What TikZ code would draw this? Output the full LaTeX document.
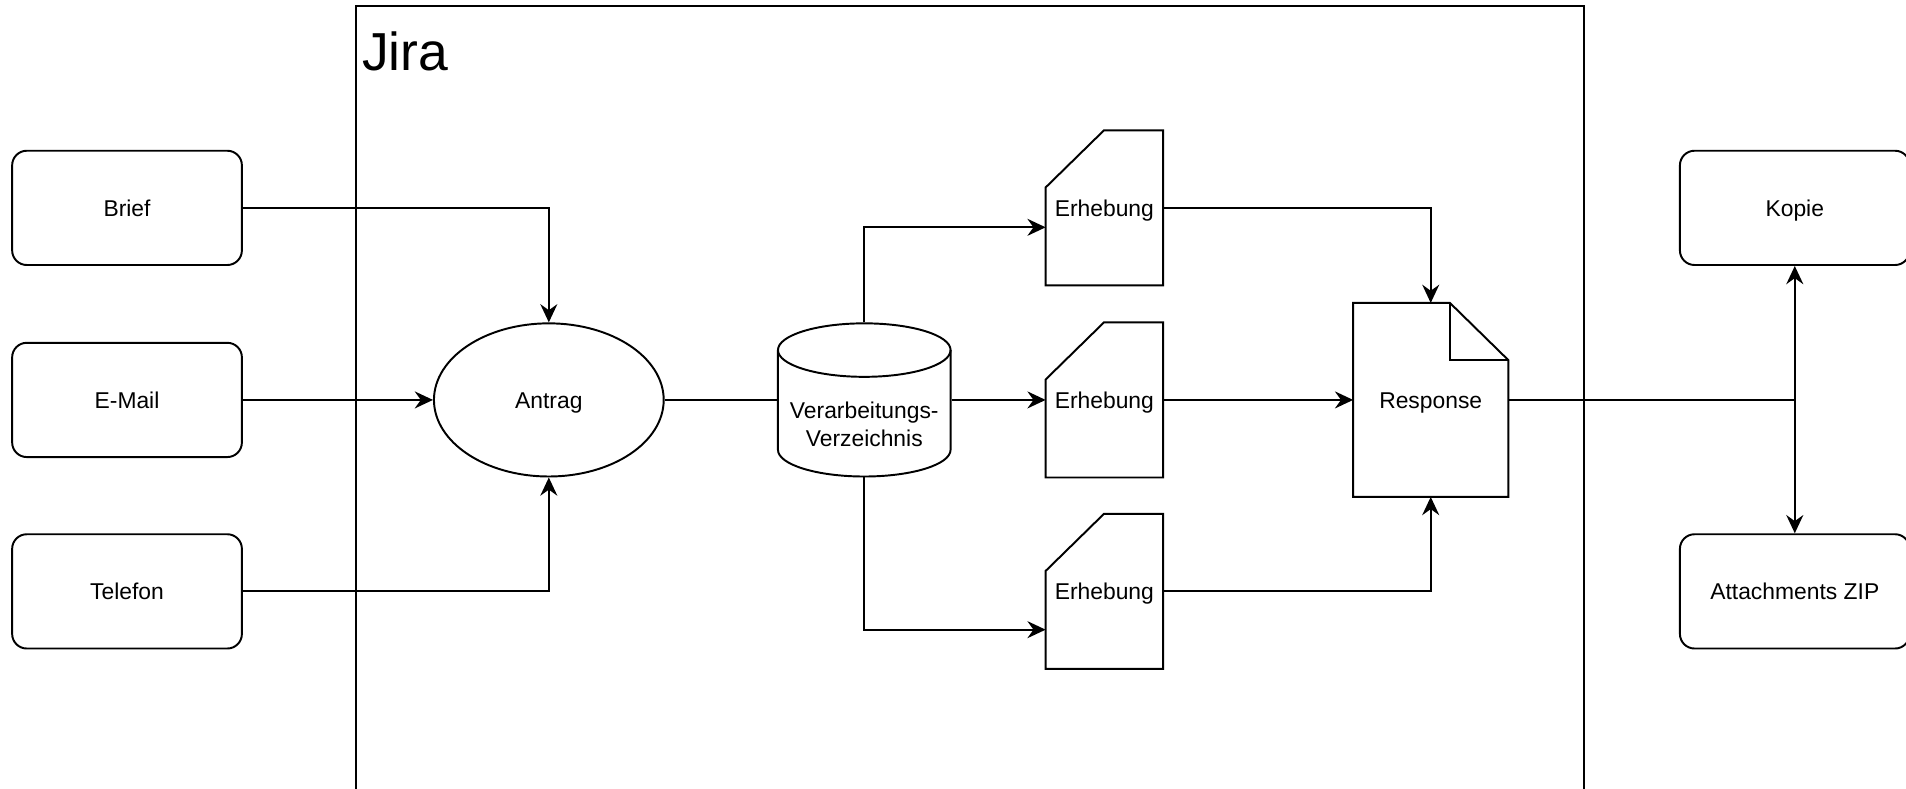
\documentclass[tikz,border=0pt]{standalone}
\usepackage{fontspec}
\setmainfont{Liberation Sans}
\usetikzlibrary{arrows.meta,shapes.geometric,calc}
\begin{document}
\begin{tikzpicture}[x=0.5pt,y=-0.5pt, line width=0.8pt,
  every node/.style={font=\fontsize{9.4pt}{11.2pt}\selectfont, inner sep=0pt, text height=6.7pt, text depth=0pt},
  rbox/.style={draw, rounded corners=6pt, minimum width=94.5pt, minimum height=47pt},
  cardbox/.style={minimum width=47.5pt, minimum height=63pt},
  arr/.style={-{Stealth[length=7.5pt,width=7pt,inset=2.5pt]}}]
\useasboundingbox (0,0) rectangle (1568,649);
\clip (0,0) rectangle (1568,649);
% container
\draw (293,5) rectangle (1303,700);
\node[anchor=base west, font=\fontsize{22pt}{26pt}\selectfont] (jira) at (297,58) {Jira};
% sources
\node[rbox] (brief) at (104.5,171) {Brief};
\node[rbox] (email) at (104.5,329) {E-Mail};
\node[rbox] (telefon) at (104.5,486.5) {Telefon};
% Antrag
\node[draw, ellipse, minimum width=94.5pt, minimum height=63pt] (antrag) at (451.5,329) {Antrag};
% cylinder
\node[minimum width=71pt, minimum height=63pt] (vv) at (711,329) {};
\draw (640,288) -- (640,370) arc[start angle=180,end angle=360,x radius=35.5pt,y radius=11pt]
  -- (782,288) arc[start angle=0,end angle=180,x radius=35.5pt,y radius=11pt] -- cycle;
\draw (640,288) arc[start angle=180,end angle=360,x radius=35.5pt,y radius=11pt];
\node[align=center, text height=, text depth=] (vvt) at (711,349) {Verarbeitungs-\\Verzeichnis};
% Erhebung cards
\foreach \n/\y in {e1/171, e2/329, e3/486.5}{
  \node[cardbox] (\n) at (908.5,\y) {Erhebung};
  \draw ($(\n.north west)+(0,47)$) -- ($(\n.north west)+(48,0)$) -- (\n.north east)
    -- (\n.south east) -- (\n.south west) -- cycle;
}
% Response
\node[minimum width=63pt, minimum height=79pt] (resp) at (1177,329) {Response};
\draw (resp.north west) -- ($(resp.north east)+(-48,0)$) -- ($(resp.north east)+(0,47)$)
  -- (resp.south east) -- (resp.south west) -- cycle;
\draw ($(resp.north east)+(-48,0)$) -- ($(resp.north east)+(-48,47)$) -- ($(resp.north east)+(0,47)$);
% outputs
\node[rbox] (kopie) at (1476.5,171) {Kopie};
\node[rbox] (att) at (1476.5,486.5) {Attachments ZIP};
\coordinate (j) at (1476.5,329);
% connectors
\draw[arr] (brief.east) -| (antrag.north);
\draw[arr] (email.east) -- (antrag.west);
\draw[arr] (telefon.east) -| (antrag.south);
\draw (antrag.east) -- (vv.west);
\draw[arr] (vv.north) |- ($(e1.west)+(0,16)$);
\draw[arr] (vv.east) -- (e2.west);
\draw[arr] (vv.south) |- ($(e3.west)+(0,31.5)$);
\draw[arr] (e1.east) -| (resp.north);
\draw[arr] (e2.east) -- (resp.west);
\draw[arr] (e3.east) -| (resp.south);
\draw (resp.east) -- (j);
\draw[arr] (j) -- (kopie.south);
\draw[arr] (j) -- (att.north);
\end{tikzpicture}
\end{document}
